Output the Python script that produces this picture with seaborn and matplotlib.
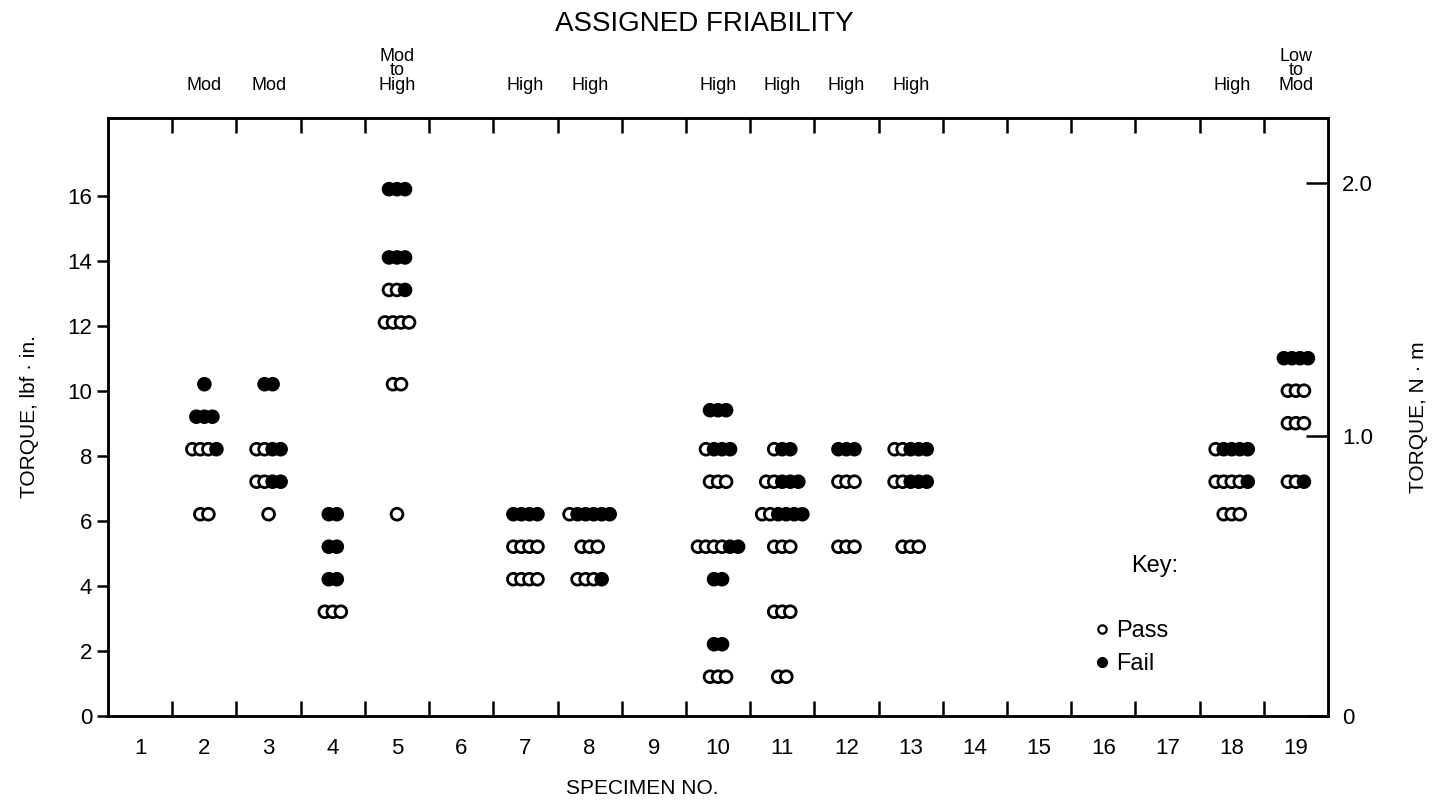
import numpy as np
import pandas as pd
import matplotlib
matplotlib.use("Agg")
import matplotlib.pyplot as plt
import matplotlib.transforms as mtransforms
import seaborn as sns
from matplotlib.lines import Line2D

# specimen numbers on the x axis
specimens = list(range(1, 20))

# each row of dots: specimen, torque (lbf.in), how many passed, how many failed
row_specimen = [2, 2, 2, 2,
                3, 3, 3, 3,
                4, 4, 4, 4,
                5, 5, 5, 5, 5, 5,
                7, 7, 7,
                8, 8, 8,
                10, 10, 10, 10, 10, 10, 10,
                11, 11, 11, 11, 11, 11,
                12, 12, 12,
                13, 13, 13,
                18, 18, 18,
                19, 19, 19, 19]
row_torque = [10.2, 9.2, 8.2, 6.2,
              10.2, 8.2, 7.2, 6.2,
              6.2, 5.2, 4.2, 3.2,
              16.2, 14.1, 13.1, 12.1, 10.2, 6.2,
              6.2, 5.2, 4.2,
              6.2, 5.2, 4.2,
              9.4, 8.2, 7.2, 5.2, 4.2, 2.2, 1.2,
              8.2, 7.2, 6.2, 5.2, 3.2, 1.2,
              8.2, 7.2, 5.2,
              8.2, 7.2, 5.2,
              8.2, 7.2, 6.2,
              11.0, 10.0, 9.0, 7.2]
row_pass = [0, 0, 3, 2,
            0, 2, 2, 1,
            0, 0, 0, 3,
            0, 0, 2, 4, 2, 1,
            0, 4, 4,
            1, 3, 3,
            0, 1, 3, 4, 0, 0, 3,
            1, 2, 2, 3, 3, 2,
            0, 3, 3,
            2, 2, 3,
            1, 4, 3,
            0, 3, 3, 2]
row_fail = [1, 3, 1, 0,
            2, 2, 2, 0,
            2, 2, 2, 0,
            3, 3, 1, 0, 0, 0,
            4, 0, 0,
            5, 0, 1,
            3, 3, 0, 2, 2, 2, 0,
            2, 3, 4, 0, 0, 0,
            3, 0, 0,
            3, 3, 0,
            4, 1, 0,
            4, 0, 0, 1]

friab_specimen = [2, 3, 5, 7, 8, 10, 11, 12, 13, 18, 19]
friab_label = ["Mod", "Mod", "Mod\nto\nHigh", "High", "High", "High",
               "High", "High", "High", "High", "Low\nto\nMod"]

right_tick_pos = [0, 8.6, 16.4]
right_tick_lab = ["0", "1.0", "2.0"]

# one record per dot, dots in a row sit side by side
recs = []
for s, t, p, f in zip(row_specimen, row_torque, row_pass, row_fail):
    n = p + f
    for i in range(n):
        recs.append({"x": s + (i - (n - 1) / 2) * 0.125, "y": t,
                     "status": "Pass" if i < p else "Fail"})
df = pd.DataFrame(recs)

sns.set_style("ticks", {"text.color": "black", "axes.labelcolor": "black",
                        "xtick.color": "black", "ytick.color": "black",
                        "axes.edgecolor": "black"})
plt.rcParams["font.family"] = ["Liberation Sans", "DejaVu Sans"]

fig = plt.figure(figsize=(14.41, 8.06), dpi=100)
ax = fig.add_axes([0.075, 0.112, 0.8466, 0.742])

sns.scatterplot(data=df, x="x", y="y", hue="status",
                palette={"Pass": "white", "Fail": "black"},
                edgecolor="black", linewidth=2.0, s=72, legend=False, ax=ax,
                zorder=3)

ax.set_xlim(0.5, 19.5)
ax.set_ylim(0, 18.4)
ax.set_xticks(specimens)
ax.set_xticklabels([str(s) for s in specimens], fontsize=16)
ax.set_xticks(np.arange(1.5, 19.5, 1), minor=True)
ax.tick_params(axis="x", which="major", length=0, pad=16)
ax.tick_params(axis="x", which="minor", direction="in", length=11, width=1.8,
               top=True, bottom=True)
ax.set_yticks(range(0, 17, 2))
ax.tick_params(axis="y", which="major", labelsize=16, length=8, width=1.8,
               direction="out")
for sp in ax.spines.values():
    sp.set_linewidth(1.8)
    sp.set_visible(True)

ax.set_xlabel("SPECIMEN NO.", fontsize=15, labelpad=14)
ax.xaxis.set_label_coords(0.438, -0.105)
ax.set_ylabel("TORQUE, lbf \u00b7 in.", fontsize=15, labelpad=20)

ax2 = ax.twinx()
ax2.set_ylim(ax.get_ylim())
ax2.set_yticks(right_tick_pos)
ax2.set_yticklabels(right_tick_lab, fontsize=16)
ax2.tick_params(axis="y", direction="in", length=16, width=1.8, pad=10)
ax2.set_ylabel("TORQUE, N \u00b7 m", fontsize=15, labelpad=26)
for sp in ax2.spines.values():
    sp.set_linewidth(1.8)

# assigned friability above the top axis
trans = mtransforms.blended_transform_factory(ax.transData, ax.transAxes)
for s, lab in zip(friab_specimen, friab_label):
    ax.text(s, 1.04, lab, transform=trans, ha="center", va="bottom",
            fontsize=13, linespacing=0.8)
fig.text(0.489, 0.970, "ASSIGNED FRIABILITY", ha="center", va="center",
         fontsize=20)

handles = [Line2D([], [], marker="o", ls="", markersize=6, markerfacecolor="white",
                  markeredgecolor="black", markeredgewidth=1.6, label="Pass"),
           Line2D([], [], marker="o", ls="", markersize=7, markerfacecolor="black",
                  markeredgecolor="black", label="Fail")]
ax.legend(handles=handles, frameon=False, fontsize=17, loc="center left",
          bbox_to_anchor=(0.805, 0.114), borderpad=0, borderaxespad=0,
          handletextpad=0.1, handlelength=1.0, labelspacing=0.45)
ax.text(0.858, 0.251, "Key:", transform=ax.transAxes, ha="center",
        va="center", fontsize=17)

fig.savefig("out.png", dpi=100)
